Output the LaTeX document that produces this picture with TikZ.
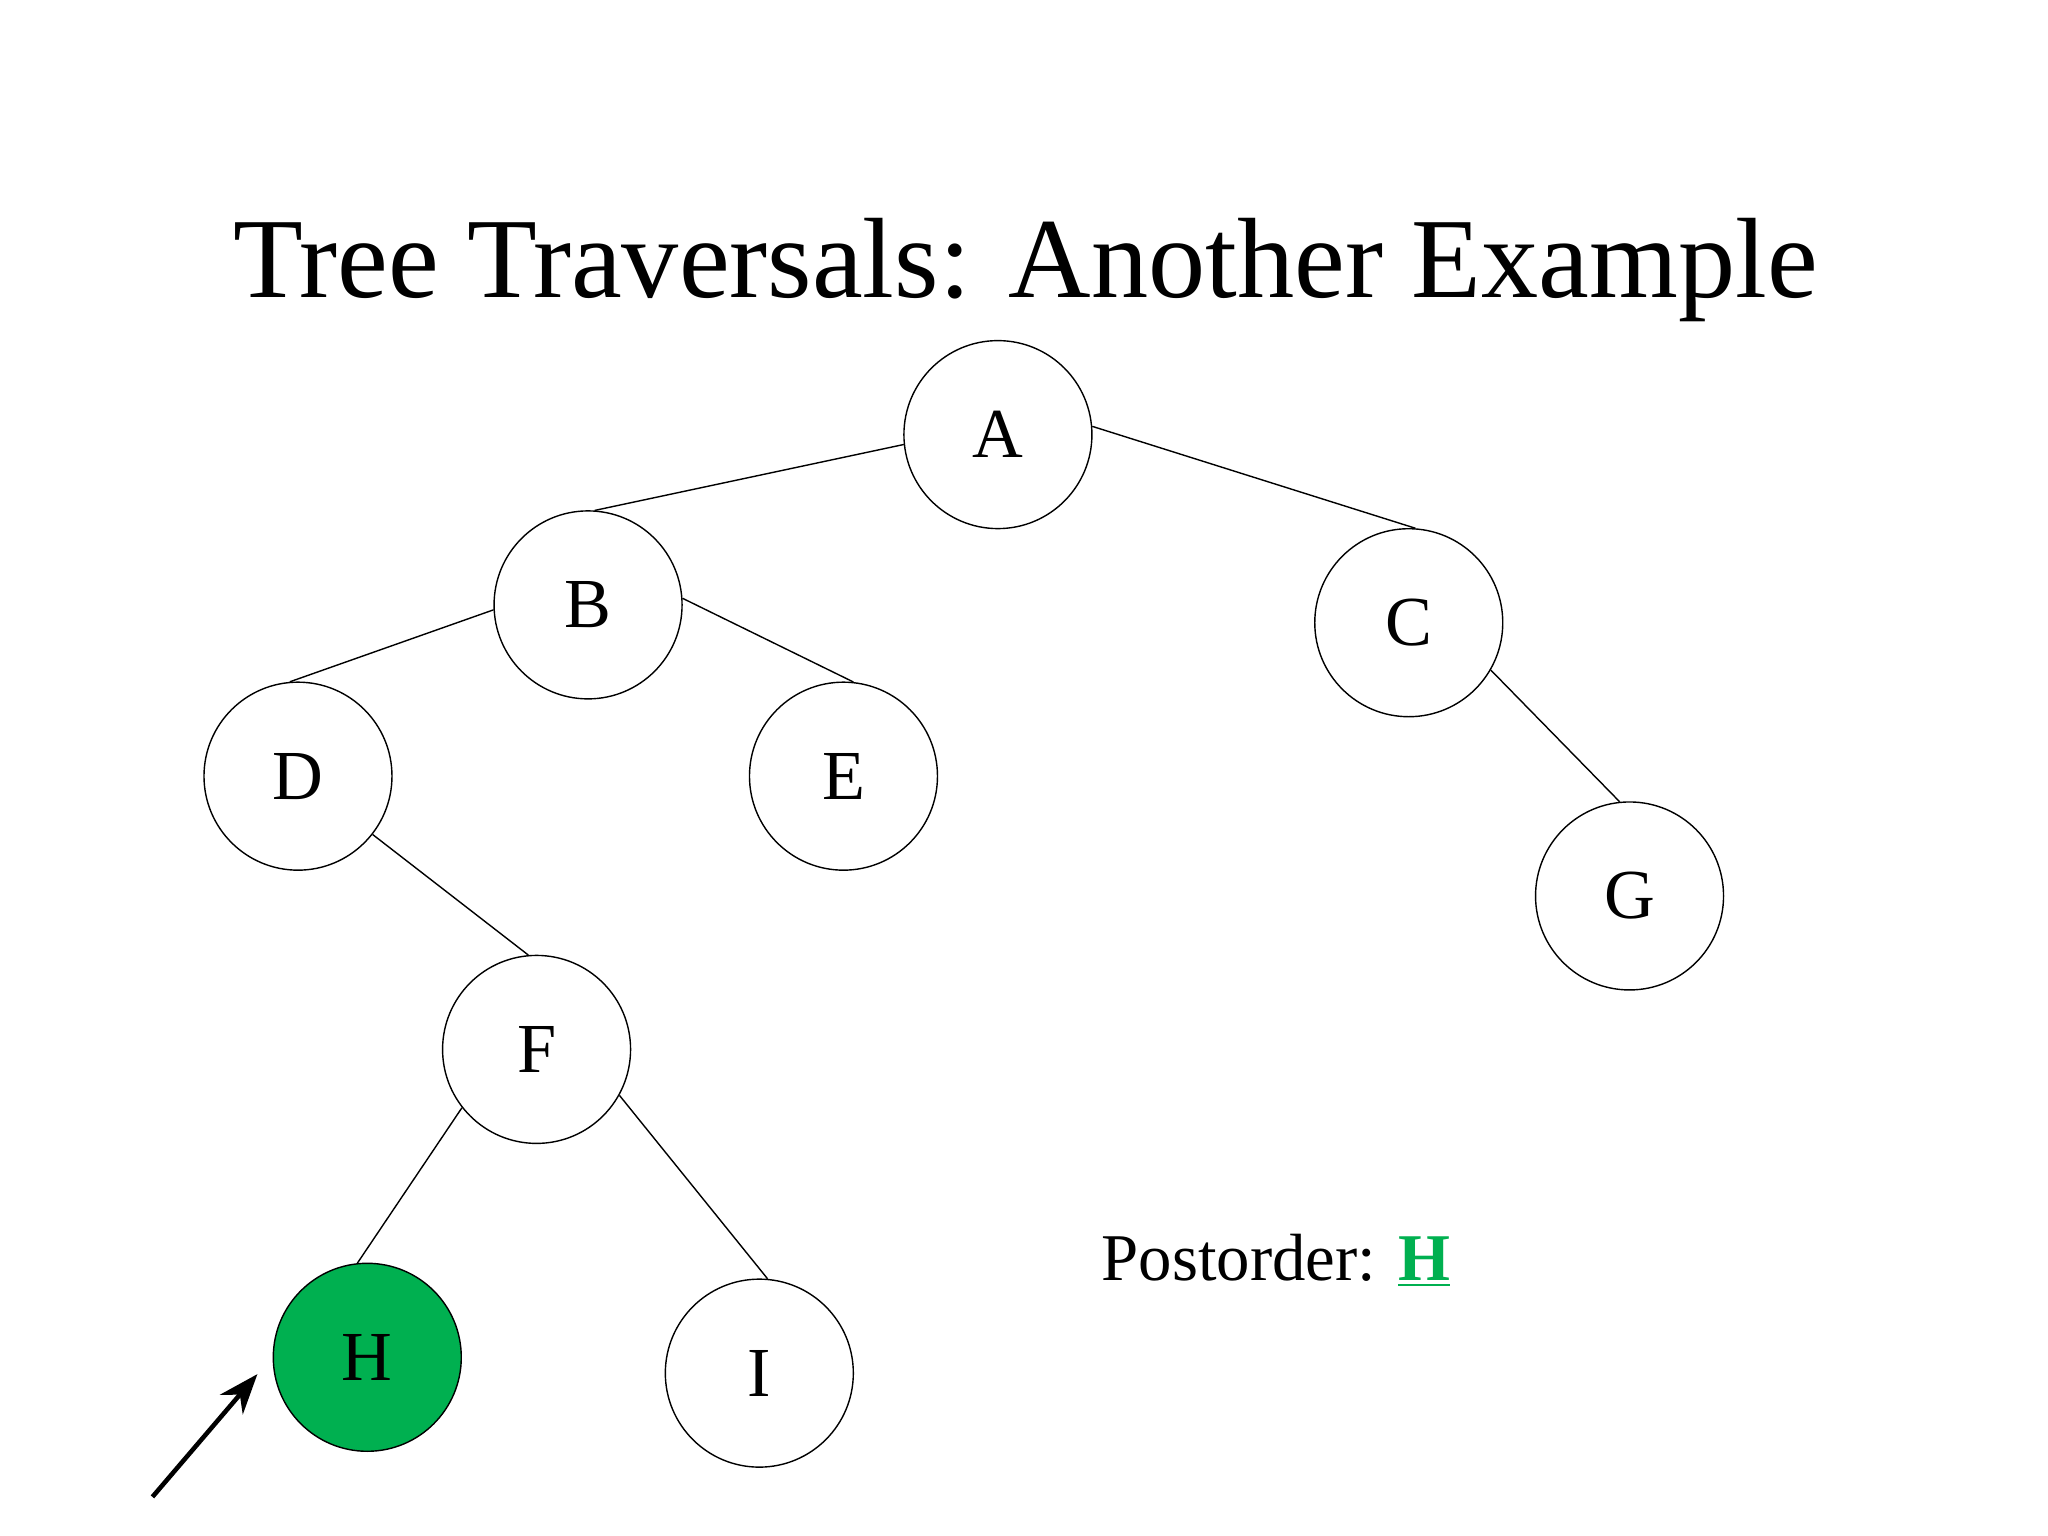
\documentclass[tikz,border=0pt]{standalone}
\usepackage{fontspec}
\setmainfont{Liberation Serif}
\usetikzlibrary{arrows.meta}
\definecolor{pgreen}{RGB}{0,176,80}
\begin{document}
\begin{tikzpicture}
\useasboundingbox (0,0) rectangle (20.48,-15.36);
\tikzset{tn/.style={circle,draw,thin,minimum size=1.88cm,inner sep=0pt,font=\fontsize{20}{24}\selectfont}}
\begin{scope}[scale=0.99]
\node[font=\fontsize{32.5}{40}\selectfont] (title) at (10.36,-2.73) {Tree Traversals: Another Example};
\node[tn] (A) at (10.08,-4.39) {A};
\node[tn] (B) at (5.94,-6.11) {B};
\node[tn] (C) at (14.23,-6.29) {C};
\node[tn] (D) at (3.01,-7.84) {D};
\node[tn] (E) at (8.52,-7.84) {E};
\node[tn] (F) at (5.42,-10.60) {F};
\node[tn] (G) at (16.46,-9.05) {G};
\node[tn,fill=pgreen] (H) at (3.71,-13.71) {H};
\node[tn] (I) at (7.67,-13.87) {I};
\draw[thin] (A.186)--(B.86) (A.5)--(C.86) (B.183)--(D.95) (B.4)--(E.84) (C.330)--(G.96) (D.322)--(F.95) (F.218)--(H.96) (F.331)--(I.85);
\node[anchor=base west,font=\fontsize{19}{23}\selectfont,inner sep=0pt] (post) at (11.12,-12.93) {Postorder: \textcolor{pgreen}{\textbf{\underline{H}}}};
\coordinate (s) at (1.54,-15.12);
\coordinate (e) at (2.60,-13.88);
\end{scope}
\draw[-{Stealth[length=4mm,width=3mm]},line width=1.3pt] (s)--(e);
\end{tikzpicture}
\end{document}
